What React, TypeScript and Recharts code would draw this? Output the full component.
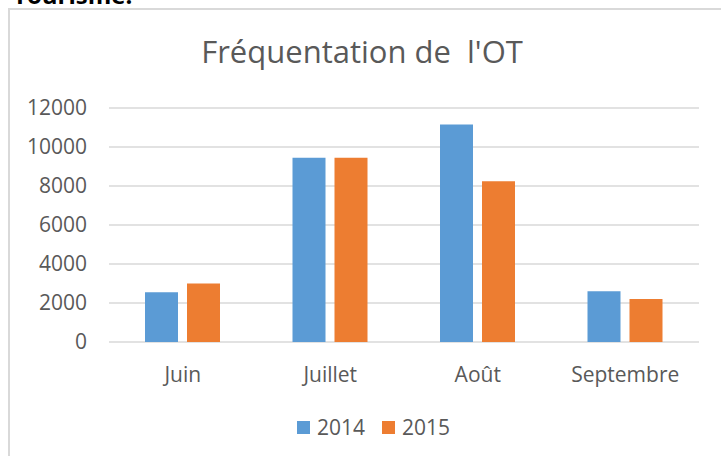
import React from 'react';
import { BarChart, Bar, XAxis, YAxis, CartesianGrid } from 'recharts';

const months = ['Juin', 'Juillet', 'Août', 'Septembre'];
const values2014 = [2550, 9450, 11150, 2600];
const values2015 = [3000, 9450, 8250, 2200];
const yTicks = [0, 2000, 4000, 6000, 8000, 10000, 12000];
const seriesNames = ['2014', '2015'];
const seriesColors = ['#5b9bd5', '#ed7d31'];
const chartTitle = "Fréquentation de  l'OT";
const headerText = 'Tourisme.';

const data = months.map((m, i) => ({ month: m, s2014: values2014[i], s2015: values2015[i] }));

const FONT = '"Open Sans", "Noto Sans", sans-serif';
const TEXT = '#595959';

export default function App() {
  return (
    <div style={{ position: 'fixed', left: 0, top: 0, width: 721, height: 456, overflow: 'hidden', background: '#fff', fontFamily: FONT }}>
      <div style={{ position: 'absolute', left: 13, top: -17, fontSize: 24, lineHeight: '24px', fontWeight: 700, color: '#000', whiteSpace: 'pre' }}>{headerText}</div>
      <div style={{ position: 'absolute', left: 8, top: 8, width: 740, height: 480, border: '2px solid #d9d9d9', boxSizing: 'border-box' }} />
      <div style={{ position: 'absolute', left: 162, width: 400, top: 36, textAlign: 'center', fontSize: 31, lineHeight: '31px', color: TEXT, whiteSpace: 'pre' }}>{chartTitle}</div>
      <div style={{ position: 'absolute', left: 0, top: 0 }}>
        <BarChart width={721} height={456} data={data} margin={{ top: 108, right: 22, bottom: 0, left: 0 }} barSize={33} barGap={9}>
          <CartesianGrid vertical={false} stroke="#d9d9d9" strokeWidth={1.3} />
          <XAxis dataKey="month" axisLine={false} tickLine={false} tickSize={0} tickMargin={25} height={114}
            tick={{ fill: TEXT, fontSize: 21, fontFamily: FONT }} interval={0} />
          <YAxis domain={[0, 12000]} ticks={yTicks} axisLine={false} tickLine={false} tickSize={0} tickMargin={22} width={109}
            tick={{ fill: TEXT, fontSize: 21, fontFamily: FONT }} interval={0} />
          <Bar dataKey="s2014" name={seriesNames[0]} fill={seriesColors[0]} isAnimationActive={false} />
          <Bar dataKey="s2015" name={seriesNames[1]} fill={seriesColors[1]} isAnimationActive={false} />
        </BarChart>
      </div>
      <div style={{ position: 'absolute', left: 297, top: 417, display: 'flex', alignItems: 'center', fontSize: 21, lineHeight: '21px', color: TEXT }}>
        {seriesNames.map((n, i) => (
          <div key={n} style={{ display: 'flex', alignItems: 'center', marginRight: 17 }}>
            <span style={{ display: 'inline-block', width: 13, height: 13, background: seriesColors[i], marginRight: 7 }} />
            <span>{n}</span>
          </div>
        ))}
      </div>
    </div>
  );
}
